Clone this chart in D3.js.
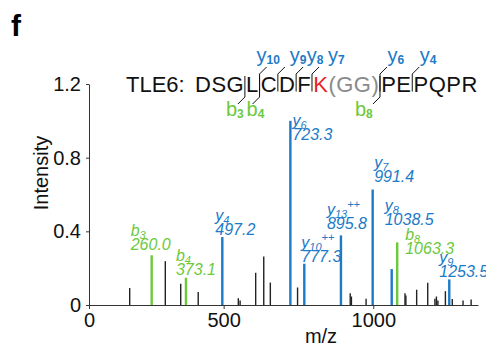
<!DOCTYPE html>
<html>
<head>
<meta charset="utf-8">
<script src="https://cdn.jsdelivr.net/npm/d3@7"></script>
<style>
	body { margin: 0; background: #fff; }
	svg { display: block; font-family: "Liberation Sans", Arial, sans-serif; }
</style>
</head>
<body>
<div id="chart"></div>
<script>
// axis ticks
const xTickValues = [50, 500, 1000];
const xTickLabels = ['0', '500', '1000'];
const yTicks = [0, 0.4, 0.8, 1.2];

// unassigned peaks
const noiseMz = [186, 305, 356.5, 415, 549, 555, 607, 634, 656, 747, 923, 927, 976, 1106, 1109, 1145, 1182, 1206, 1211, 1216, 1241, 1264, 1300, 1327];
const noiseInt = [0.092, 0.238, 0.115, 0.07, 0.037, 0.025, 0.175, 0.264, 0.122, 0.095, 0.064, 0.046, 0.034, 0.064, 0.052, 0.083, 0.121, 0.034, 0.046, 0.025, 0.075, 0.032, 0.025, 0.03];

// assigned fragment ions
const ionType = ['b', 'b', 'y', 'y', 'y', 'y', 'y', 'y', 'b', 'y'];
const ionNum = ['3', '4', '4', '6', '10', '13', '7', '8', '8', '9'];
const ionCharge = ['', '', '', '', '++', '++', '', '', '', ''];
const ionLabel = ['260.0', '373.1', '497.2', '723.3', '777.3', '895.8', '991.4', '1038.5', '1063.3', '1253.5'];
const ionPeakMz = [259.5, 374, 495.5, 723, 769.5, 892, 998, 1061.6, 1080, 1254];
const ionInt = [0.27, 0.148, 0.369, 1.0, 0.224, 0.378, 0.627, 0.195, 0.34, 0.139];

// peptide
const protein = 'TLE6:';
const residues = ['D', 'S', 'G', 'L', 'C', 'D', 'F', 'K', '(', 'G', 'G', ')', 'P', 'E', 'P', 'Q', 'P', 'R'];
const yFragNum = ['10', '9', '8', '7', '6', '4'];
const yFragCut = [4, 5, 6, 7, 12, 14];
const bFragNum = ['3', '4', '8'];
const bFragCut = [3, 4, 12];

const width = 486;
const height = 349;

const blue = '#1c7ac6';
const green = '#6cc93c';
const red = '#e8232b';
const grey = '#8a8a8a';

// label nudges [dx, dy] from the peak top
const labelNudge = [[-21, -5], [-10, -3], [-7, -2], [2, 19], [-3, -2], [-14, -6], [1.5, -8], [-7, -44], [8, 12], [-10, -2]];
const yLabelDx = [-3, 12, 10.5, 16, 7.5, 7.5];
const bLabelDx = [-19, -13, -25];

const x = d3.scaleLinear([50, 1350], [89, 478]);
const y = d3.scaleLinear([0, 1.2], [305, 84]);

const svg = d3.select('#chart').append('svg')
	.attr('width', width)
	.attr('height', height)
	.attr('viewBox', [0, 0, width, height]);

// panel letter
svg.append('text')
	.attr('x', 11).attr('y', 36)
	.attr('font-size', 30).attr('font-weight', 'bold')
	.text('f');

// axes
const xAxis = d3.axisBottom(x)
	.tickValues(xTickValues)
	.tickFormat((_, i) => xTickLabels[i])
	.tickSizeInner(4).tickSizeOuter(0).tickPadding(4);
const yAxis = d3.axisLeft(y)
	.tickValues(yTicks)
	.tickFormat(d => d === 0 ? '0' : d3.format('.1f')(d))
	.tickSizeInner(3).tickSizeOuter(0).tickPadding(5);

svg.append('g')
	.attr('transform', `translate(0,${y(0)})`)
	.call(xAxis)
	.call(g => g.selectAll('text').attr('font-size', 20).attr('fill', '#111').attr('font-family', null))
	.call(g => g.selectAll('path,line').attr('stroke', '#333'));

svg.append('g')
	.attr('transform', `translate(${x(50)},0)`)
	.call(yAxis)
	.call(g => g.selectAll('text').attr('font-size', 20).attr('fill', '#111').attr('font-family', null))
	.call(g => g.selectAll('path,line').attr('stroke', '#333'));

svg.append('text')
	.attr('x', 321).attr('y', 343)
	.attr('text-anchor', 'middle')
	.attr('font-size', 20).attr('fill', '#111')
	.text('m/z');

svg.append('text')
	.attr('transform', 'translate(48,173) rotate(-90)')
	.attr('text-anchor', 'middle')
	.attr('font-size', 20).attr('fill', '#111')
	.text('Intensity');

// peaks
svg.append('g')
	.selectAll('line')
	.data(d3.range(noiseMz.length))
	.join('line')
	.attr('x1', i => x(noiseMz[i])).attr('x2', i => x(noiseMz[i]))
	.attr('y1', y(0)).attr('y2', i => y(noiseInt[i]))
	.attr('stroke', '#222')
	.attr('stroke-width', 1.4);

const ionColor = i => ionType[i] === 'b' ? green : blue;

svg.append('g')
	.selectAll('line')
	.data(d3.range(ionPeakMz.length))
	.join('line')
	.attr('x1', i => x(ionPeakMz[i])).attr('x2', i => x(ionPeakMz[i]))
	.attr('y1', y(0)).attr('y2', i => y(ionInt[i]))
	.attr('stroke', ionColor)
	.attr('stroke-width', 2.4);

// peak labels
const labels = svg.append('g')
	.attr('font-style', 'italic');

d3.range(ionPeakMz.length).forEach(i => {
	const lx = x(ionPeakMz[i]) + labelNudge[i][0];
	const ly = y(ionInt[i]) + labelNudge[i][1];
	const c = ionColor(i);

	const t = labels.append('text')
		.attr('x', lx).attr('y', ly - 14)
		.attr('fill', c).attr('font-size', 16);
	t.append('tspan').text(ionType[i]);
	t.append('tspan').attr('font-size', 11).attr('dy', 3).text(ionNum[i]);
	if (ionCharge[i]) {
		t.append('tspan').attr('font-size', 11).attr('dy', -10).text(ionCharge[i]);
	}

	labels.append('text')
		.attr('x', lx).attr('y', ly)
		.attr('fill', c).attr('font-size', 16)
		.text(ionLabel[i]);
});

// peptide sequence with fragment cuts
const seqY = 91.5;
const seq = svg.append('g').attr('font-size', 22);

seq.append('text')
	.attr('x', 126).attr('y', seqY)
	.attr('fill', '#111')
	.text(protein);

const resColor = i => i === 7 ? red : (i >= 8 && i <= 11 ? grey : '#111');
const cuts = new Set([...yFragCut, ...bFragCut]);
const barX = {};
let cursor = 195;
residues.forEach((r, i) => {
	if (i > 0) {
		if (cuts.has(i)) {
			cursor += 1.2;
			barX[i] = cursor;
			cursor += 1.2;
		} else {
			cursor += 0.5;
		}
	}
	const t = seq.append('text')
		.attr('x', cursor).attr('y', seqY)
		.attr('fill', resColor(i))
		.text(r);
	cursor += t.node().getComputedTextLength();
});

const marks = svg.append('g')
	.attr('fill', 'none')
	.attr('stroke', '#111')
	.attr('stroke-width', 1);

yFragCut.forEach((c, k) => {
	const bx = barX[c];
	marks.append('path')
		.attr('d', `M${bx},${seqY}V74l7,-7`);
	const t = svg.append('text')
		.attr('x', bx + yLabelDx[k]).attr('y', 62)
		.attr('fill', blue).attr('font-size', 20);
	t.append('tspan').text('y');
	t.append('tspan').attr('font-size', 12).attr('font-weight', 'bold').attr('dy', 2).text(yFragNum[k]);
});

bFragCut.forEach((c, k) => {
	const bx = barX[c];
	marks.append('path')
		.attr('d', `M${bx},76V97l-7,7`);
	const t = svg.append('text')
		.attr('x', bx + bLabelDx[k]).attr('y', 116)
		.attr('fill', green).attr('font-size', 20);
	t.append('tspan').text('b');
	t.append('tspan').attr('font-size', 12).attr('font-weight', 'bold').attr('dy', 2).text(bFragNum[k]);
});
</script>
</body>
</html>
